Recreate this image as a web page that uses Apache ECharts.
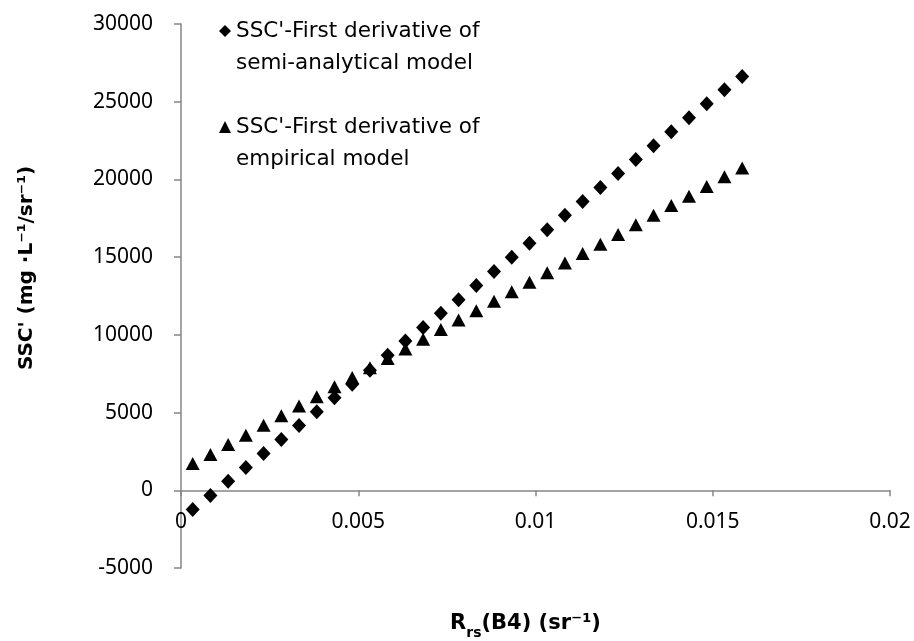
<!DOCTYPE html>
<html>
<head>
<meta charset="utf-8">
<script src="https://cdn.jsdelivr.net/npm/echarts@6/dist/echarts.min.js"></script>
<style>
  html, body { margin: 0; padding: 0; background: #fff; }
  #chart { width: 914px; height: 641px; }
</style>
</head>
<body>
<div id="chart"></div>
<script>
// Reflectance in band 4 (sr^-1)
const rrsB4 = [
  0.00033, 0.00083, 0.00133, 0.00183, 0.00233, 0.00283, 0.00333, 0.00383,
  0.00433, 0.00483, 0.00533, 0.00583, 0.00633, 0.00683, 0.00733, 0.00783,
  0.00833, 0.00883, 0.00933, 0.00983, 0.01033, 0.01083, 0.01133, 0.01183,
  0.01233, 0.01283, 0.01333, 0.01383, 0.01433, 0.01483, 0.01533, 0.01583
];

// SSC' from the semi-analytical model
const semiAnalytical = [
  -1240, -340, 580, 1460, 2370, 3270, 4170, 5050,
  5950, 6830, 7730, 8680, 9600, 10480, 11390, 12260,
  13170, 14070, 14990, 15900, 16770, 17700, 18580, 19480,
  20380, 21280, 22170, 23070, 23970, 24870, 25770, 26630
];

// SSC' from the empirical model
const empirical = [
  1720, 2310, 2940, 3540, 4190, 4790, 5430, 6010,
  6660, 7260, 7880, 8480, 9090, 9710, 10350, 10950,
  11550, 12160, 12770, 13380, 14000, 14630, 15230, 15830,
  16450, 17080, 17700, 18320, 18920, 19540, 20170, 20730
];

const xTicks = { min: 0, max: 0.02, interval: 0.005 };
const yTicks = { min: -5000, max: 30000, interval: 5000 };

const seriesNames = [
  "SSC'-First derivative of\nsemi-analytical model",
  "SSC'-First derivative of\nempirical model"
];

const TICK_FONT = '"Noto Sans", sans-serif';
const TEXT_FONT = '"DejaVu Sans", sans-serif';
const AXIS_GREY = '#868686';

const chart = echarts.init(document.getElementById('chart'), null, { renderer: 'canvas' });

chart.setOption({
  backgroundColor: '#ffffff',
  animation: false,
  grid: { left: 181, right: 24, top: 24, bottom: 73, containLabel: false, outerBoundsMode: 'none' },
  legend: {
    orient: 'vertical',
    left: 214,
    top: -22,
    itemWidth: 12,
    itemHeight: 12,
    itemGap: 0,
    // leading blank line keeps the marker level with the first text line
    formatter: name => '\n' + name,
    data: [
      { name: seriesNames[0], icon: 'diamond', itemStyle: { color: '#000', opacity: 1 } },
      { name: seriesNames[1], icon: 'triangle', itemStyle: { color: '#000', opacity: 1 } }
    ],
    textStyle: {
      fontFamily: TEXT_FONT,
      fontSize: 21.5,
      color: '#000',
      lineHeight: 32
    }
  },
  xAxis: {
    type: 'value',
    min: xTicks.min,
    max: xTicks.max,
    interval: xTicks.interval,
    splitLine: { show: false },
    axisLine: { onZero: true, lineStyle: { color: AXIS_GREY, width: 1.5 } },
    axisTick: { show: true, inside: false, length: 6, lineStyle: { color: AXIS_GREY, width: 1.5 } },
    // labels sit just under the zero line rather than at the grid bottom
    axisLabel: { fontFamily: TICK_FONT, fontSize: 21, color: '#000', margin: -56, formatter: v => String(v) },
    name: '{a|R}{sub|rs}{a|(B4) (sr⁻¹)}',
    nameLocation: 'middle',
    nameGap: 40,
    nameTextStyle: {
      padding: [0, 20, 0, 0],
      rich: {
        a: { fontFamily: TEXT_FONT, fontSize: 21, fontWeight: 'bold', color: '#000', lineHeight: 26, verticalAlign: 'bottom' },
        sub: { fontFamily: TEXT_FONT, fontSize: 14, fontWeight: 'bold', color: '#000', lineHeight: 26, verticalAlign: 'bottom', padding: [0, 0, -6, 0] }
      }
    }
  },
  yAxis: {
    type: 'value',
    min: yTicks.min,
    max: yTicks.max,
    interval: yTicks.interval,
    splitLine: { show: false },
    axisLine: { show: true, onZero: false, lineStyle: { color: AXIS_GREY, width: 1.5 } },
    axisTick: { show: true, inside: false, length: 7, lineStyle: { color: AXIS_GREY, width: 1.5 } },
    axisLabel: { fontFamily: TICK_FONT, fontSize: 21, color: '#000', margin: 28, formatter: v => String(v) },
    name: "SSC' (mg ·L⁻¹/sr⁻¹)",
    nameLocation: 'middle',
    nameGap: 144,
    nameTextStyle: { fontFamily: TEXT_FONT, fontSize: 20, fontWeight: 'bold', color: '#000', padding: [0, 0, 0, 56] }
  },
  series: [
    {
      name: seriesNames[0],
      type: 'scatter',
      symbol: 'diamond',
      symbolSize: [14, 15],
      itemStyle: { color: '#000', opacity: 1 },
      data: rrsB4.map((x, i) => [x, semiAnalytical[i]])
    },
    {
      name: seriesNames[1],
      type: 'scatter',
      symbol: 'triangle',
      symbolSize: [14, 13],
      itemStyle: { color: '#000', opacity: 1 },
      data: rrsB4.map((x, i) => [x, empirical[i]])
    }
  ]
});
</script>
</body>
</html>
